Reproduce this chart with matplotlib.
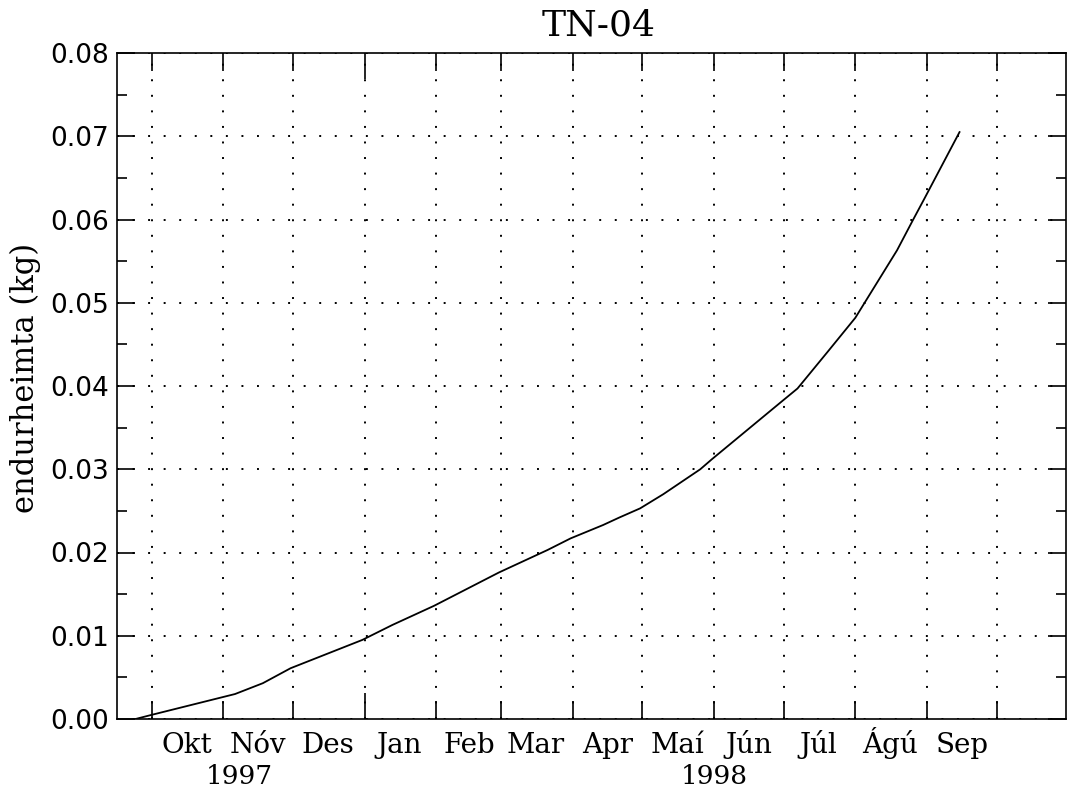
import matplotlib
matplotlib.use("Agg")
import matplotlib.pyplot as plt
import numpy as np
from matplotlib.ticker import MultipleLocator
from matplotlib.transforms import blended_transform_factory

# ---------------- data ----------------
title = "TN-04"
y_label = "endurheimta (kg)"

dates = ["1997-09-24", "1997-10-01", "1997-11-06", "1997-11-18", "1997-11-30",
         "1997-12-31", "1998-01-13", "1998-01-31", "1998-02-28", "1998-03-21",
         "1998-03-31", "1998-04-14", "1998-04-21", "1998-04-30", "1998-05-10",
         "1998-05-26", "1998-05-31", "1998-06-30", "1998-07-07", "1998-07-20",
         "1998-08-01", "1998-08-19", "1998-08-26", "1998-08-31", "1998-09-15"]
values = [0.0000, 0.0005, 0.0030, 0.0043, 0.0061,
          0.0095, 0.0113, 0.0136, 0.0176, 0.0203,
          0.0217, 0.0233, 0.0242, 0.0253, 0.0270,
          0.0300, 0.0312, 0.0381, 0.0397, 0.0441,
          0.0482, 0.0563, 0.0600, 0.0626, 0.0705]

month_starts = ["1997-10-01", "1997-11-01", "1997-12-01", "1998-01-01",
                "1998-02-01", "1998-03-01", "1998-04-01", "1998-05-01",
                "1998-06-01", "1998-07-01", "1998-08-01", "1998-09-01",
                "1998-10-01"]
month_labels = ["Okt", "Nóv", "Des", "Jan", "Feb", "Mar", "Apr", "Maí",
                "Jún", "Júl", "Ágú", "Sep"]
year_boundaries = ["1998-01-01"]
year_labels = ["1997", "1998"]
year_label_dates = ["1997-11-08", "1998-06-01"]

y_ticks = [0.00, 0.01, 0.02, 0.03, 0.04, 0.05, 0.06, 0.07, 0.08]
x_range = ["1997-09-16", "1998-10-31"]

# ---------------- figure ----------------
W, H = 1069, 789
fig = plt.figure(figsize=(W / 100, H / 100), dpi=100)
L, R, T, B = 117, 1066, 53, 719
ax = fig.add_axes([L / W, 1 - B / H, (R - L) / W, (B - T) / H])

x = np.array(dates, dtype="datetime64[D]")
ms = np.array(month_starts, dtype="datetime64[D]")
ax.plot(x, values, color="black", lw=1.3, solid_joinstyle="round")

ax.set_xlim(np.datetime64(x_range[0]), np.datetime64(x_range[1]))
ax.set_ylim(y_ticks[0], y_ticks[-1])

# x ticks: month boundaries (year boundary ticks drawn longer)
yb = np.array(year_boundaries, dtype="datetime64[D]")
major_x = [m for m in ms if m not in yb]
ax.set_xticks(major_x)
ax.set_xticks(list(yb), minor=True)
ax.tick_params(axis="x", which="major", direction="in", length=13, width=1.2,
               top=True, bottom=True, labelbottom=False)
ax.tick_params(axis="x", which="minor", direction="in", length=19, width=1.2,
               top=True, bottom=True, labelbottom=False)

# y ticks
ax.set_yticks(y_ticks, labels=[f"{v:.2f}" for v in y_ticks])
ax.yaxis.set_minor_locator(MultipleLocator(0.005))
ax.tick_params(axis="y", which="major", direction="in", length=13, width=1.2,
               left=True, right=True, labelsize=19, pad=6)
ax.tick_params(axis="y", which="minor", direction="in", length=7, width=1.2,
               left=True, right=True)
for lbl in ax.get_yticklabels():
    lbl.set_fontfamily("DejaVu Sans")

# dotted grid
grid_kw = dict(color="black", linewidth=1.4, linestyle=(0, (1, 7)))
ax.xaxis.grid(True, which="both", **grid_kw)
ax.yaxis.grid(True, which="major", **grid_kw)

for s in ax.spines.values():
    s.set_linewidth(1.2)

# month labels (centered in each month)
trans = blended_transform_factory(ax.transData, ax.transAxes)
mids = ms[:-1] + (ms[1:] - ms[:-1]) / 2
for m, lab in zip(mids, month_labels):
    ax.text(m, -34 / (B - T), lab, transform=trans, ha="center", va="baseline",
            fontsize=20, family="DejaVu Serif")
for d, lab in zip(year_label_dates, year_labels):
    ax.text(np.datetime64(d), -65 / (B - T), lab, transform=trans, ha="center",
            va="baseline", fontsize=19, family="DejaVu Serif")

# title and y-label
fig.text(599 / W, 1 - 35 / H, title, ha="center", va="baseline",
         fontsize=26, family="DejaVu Serif")
fig.text(25 / W, 1 - 378 / H, y_label, rotation=90, ha="center", va="center",
         fontsize=22, family="DejaVu Serif")

fig.savefig("out.png", dpi=100)
